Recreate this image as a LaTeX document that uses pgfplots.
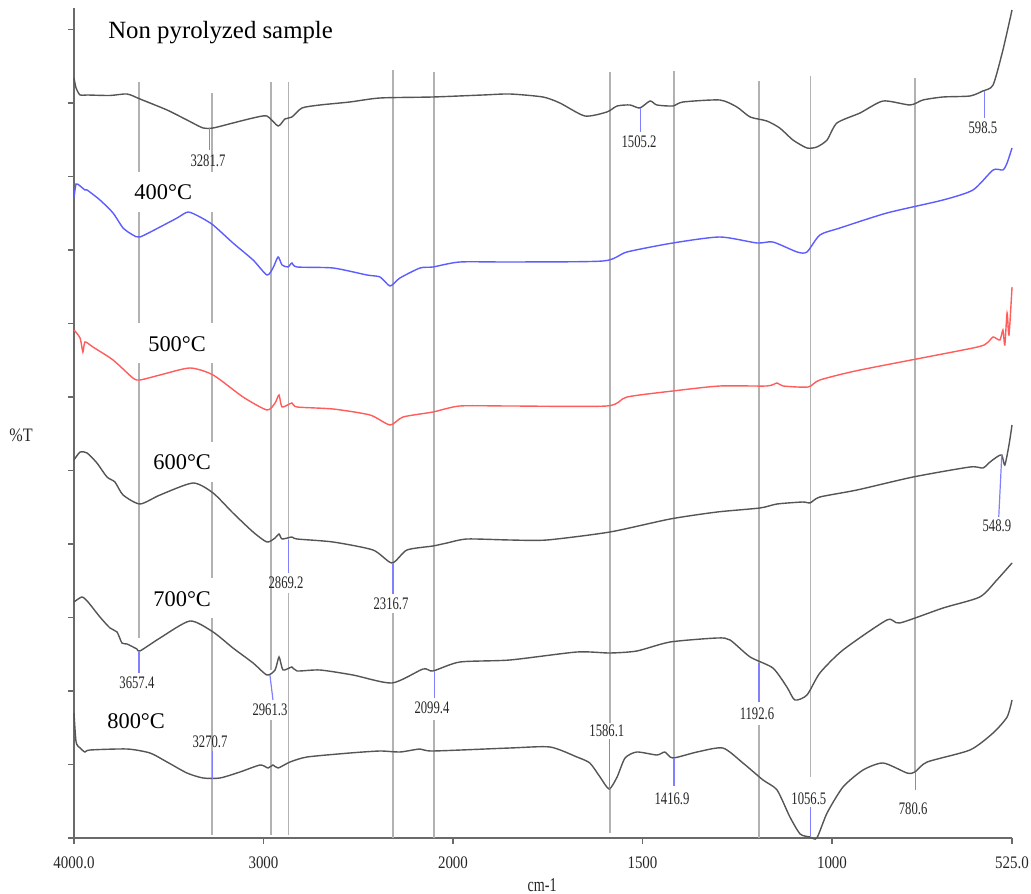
\documentclass[border=0pt]{standalone}
\usepackage{pgfplots}
\usepackage{pgfplotstable}
\pgfplotsset{compat=1.18}
\usepackage{fontspec}
\setmainfont{Liberation Serif}
\newfontfamily\cond[FakeStretch=0.72]{Liberation Serif}
\newfontfamily\tickf[FakeStretch=0.85]{Liberation Serif}
\definecolor{curvegray}{HTML}{555555}
\definecolor{curveblue}{HTML}{5C5CFF}
\definecolor{curvered}{HTML}{FF5C5C}
\definecolor{vline}{HTML}{B2B2B2}
\definecolor{pk}{HTML}{8080FF}
\definecolor{axgray}{HTML}{6A6A6A}
\definecolor{lbl}{HTML}{262626}

\pgfplotstableread{
wn T
4000 760
3989 750
3968 743
3931 743
3810 742.5
3720 744
3652 739
3509 728
3404 718
3319 710
3266 710
3161 715
3055 720
2982 722
2923 712
2887 719
2850 721
2797 730
2702 733
2544 736
2385 740
2106 741
1921 743
1850 744
1763 741
1718 735
1652 722
1594 726
1567 732
1533 733
1507 730
1480 737
1462 733
1420 732
1393 736
1296 738
1251 731
1216 721
1172 717
1138 710
1103 698
1066 690
1040 691
1013 698
987 715
926 725
865 737
794 733
760 738
707 741
636 742
602 747
575 753
549 788
525 828
}\dataNP

\pgfplotstableread{
wn T
4000 640
3989 654
3968 652
3942 648
3931 648
3863 638
3794 625
3741 610
3689 603
3652 601
3546 611
3456 620
3398 626
3335 621
3266 613
3161 595
3055 578
2982 563
2950 570
2923 581
2902 573
2871 571
2850 575
2823 571
2633 570
2454 563
2385 561
2332 552
2280 560
2174 570
2106 571
1982 576
1850 576
1604 577
1541 586
1420 595
1296 601
1198 595
1156 596
1092 586
1066 586
1032 603
979 610
855 625
707 638
628 648
575 668
549 668
538 675
525 690
}\dataFour

\pgfplotstableread{
wn T
4000 508
3968 500
3953 486
3942 496
3900 491
3794 478
3689 460
3652 458
3546 463
3388 470
3266 463
3108 441
2982 428
2939 435
2918 443
2902 431
2850 435
2823 431
2633 429
2438 423
2332 413
2264 421
2106 426
1982 432
1850 432
1594 432
1541 441
1420 447
1296 452
1172 452
1145 455
1129 452
1063 451
1032 458
926 468
628 490
591 495
575 501
557 498
549 508
544 493
538 525
533 503
525 551
}\dataFive

\pgfplotstableread{
wn T
4000 378
3968 386
3931 385
3879 375
3826 361
3784 356
3741 343
3652 334
3546 343
3372 355
3266 345
3161 325
3055 306
2982 296
2939 300
2918 304
2902 299
2850 301
2823 299
2633 296
2422 288
2322 275
2243 288
2106 292
2032 295
1963 299
1850 298
1752 298
1586 306
1427 319
1303 326
1190 330
1145 334
1077 336
1058 335
1032 341
934 348
786 361
636 371
602 370
583 376
565 381
552 383
544 373
533 393
525 413
}\dataSix

\pgfplotstableread{
wn T
4000 236
3958 241
3926 236
3863 221
3810 210
3773 206
3747 195
3720 194
3668 189
3652 187
3546 200
3388 217
3266 206
3161 190
3055 175
2982 163
2939 168
2918 181
2897 168
2850 171
2823 167
2702 168
2528 163
2322 155
2158 169
2106 167
1982 176
1850 178
1673 186
1586 185
1515 187
1427 196
1303 200
1269 198
1216 181
1156 170
1119 151
1098 138
1066 143
1032 165
971 188
855 218
821 215
707 230
610 241
565 258
525 275
}\dataSeven

\pgfplotstableread{
wn T
4000 125
3989 96
3968 90
3942 86
3916 88
3720 89
3599 85
3509 76
3404 65
3319 60
3230 60
3124 66
3018 73
2976 70
2950 73
2923 70
2860 76
2770 81
2544 85
2385 87
2280 86
2174 89
2106 87
1850 90
1744 91
1673 81
1639 75
1612 61
1588 49
1567 61
1546 80
1515 86
1462 83
1441 86
1420 80
1356 86
1288 90
1235 75
1182 58
1145 48
1111 21
1084 4
1058 1
1040 0
1013 25
971 51
918 68
865 75
802 65
781 66
749 76
636 88
575 105
538 121
525 138
}\dataEight

\begin{document}
\begin{tikzpicture}
\useasboundingbox (-37pt,-27.5pt) rectangle (478.5pt,419pt);
\begin{axis}[
  scale only axis,
  width=469pt, height=415pt,
  x coord trafo/.code={\pgfmathparse{4000-#1+max(0,2000-#1)}},
  x coord inv trafo/.code={\pgfmathparse{max(4000-#1,3000-#1/2)}},
  xmin=4000, xmax=525,
  ymin=0, ymax=830,
  axis x line*=bottom, axis y line*=left,
  axis line style={axgray, line width=0.6pt, -},
  tick align=outside,
  major tick length=3pt,
  tick style={axgray, line width=0.6pt},
  xtick={4000,3000,2000,1500,1000,525},
  xticklabels={4000.0,3000,2000,1500,1000,525.0},
  xticklabel style={font=\tickf\fontsize{8.8}{10}\selectfont, text=lbl, yshift=-3pt},
  ytick={0,73.5,147,220.5,294,367.5,441,514.5,588,661.5,735,808.5},
  yticklabels={},
  clip=false,
  every axis plot/.append style={smooth, tension=0.4, line width=0.7pt},
]
% grey reference lines
\begin{scope}[vline, line width=0.75pt]
\draw (axis cs:3657.4,756) -- (axis cs:3657.4,200);
\draw (axis cs:3270.7,745) -- (axis cs:3270.7,3);
\draw (axis cs:2961.3,756) -- (axis cs:2961.3,168);
\draw (axis cs:2961.3,118) -- (axis cs:2961.3,3);
\draw (axis cs:2869.2,756) -- (axis cs:2869.2,298);
\draw (axis cs:2869.2,245) -- (axis cs:2869.2,3);
\draw (axis cs:2316.7,768) -- (axis cs:2316.7,275);
\draw (axis cs:2316.7,225) -- (axis cs:2316.7,0);
\draw (axis cs:2099.4,766) -- (axis cs:2099.4,167);
\draw (axis cs:2099.4,118) -- (axis cs:2099.4,0);
\draw (axis cs:1586.1,766) -- (axis cs:1586.1,115);
\draw (axis cs:1586.1,49) -- (axis cs:1586.1,5);
\draw (axis cs:1416.9,767) -- (axis cs:1416.9,80);
\draw (axis cs:1192.6,757) -- (axis cs:1192.6,175);
\draw (axis cs:1192.6,113) -- (axis cs:1192.6,0);
\draw (axis cs:1056.5,762) -- (axis cs:1056.5,61);
\draw (axis cs:780.6,760) -- (axis cs:780.6,66);
\end{scope}
% white boxes behind the temperature labels
\fill[white] (axis cs:3731,666) rectangle (axis cs:3203,626);
\fill[white] (axis cs:3731,515) rectangle (axis cs:3203,475);
\fill[white] (axis cs:3636,396) rectangle (axis cs:3219,356);
\fill[white] (axis cs:3636,260) rectangle (axis cs:3219,220);

\addplot[curvegray] table[x=wn,y=T] {\dataNP};
\addplot[curveblue] table[x=wn,y=T] {\dataFour};
\addplot[curvered] table[x=wn,y=T] {\dataFive};
\addplot[curvegray] table[x=wn,y=T] {\dataSix};
\addplot[curvegray] table[x=wn,y=T] {\dataSeven};
\addplot[curvegray] table[x=wn,y=T] {\dataEight};

% blue peak markers
\begin{scope}[pk, line width=0.6pt]
\draw (axis cs:3285,710) -- (axis cs:3285,688);
\draw (axis cs:1505.2,730) -- (axis cs:1505.2,706);
\draw (axis cs:598.5,747) -- (axis cs:598.5,720);
\draw (axis cs:552,383) -- (axis cs:560,321);
\draw (axis cs:2869.2,298) -- (axis cs:2869.2,265);
\draw (axis cs:2316.7,275) -- (axis cs:2316.7,244);
\draw (axis cs:3657.4,187) -- (axis cs:3657.4,165);
\draw (axis cs:2966,163) -- (axis cs:2950,138);
\draw (axis cs:2099.4,167) -- (axis cs:2099.4,140);
\draw (axis cs:1192.6,175) -- (axis cs:1192.6,136);
\draw (axis cs:3270.7,87) -- (axis cs:3270.7,59);
\draw (axis cs:1586.1,99) -- (axis cs:1586.1,49);
\draw (axis cs:1416.9,80) -- (axis cs:1416.9,52);
\draw (axis cs:1056.5,31) -- (axis cs:1056.5,2);
\draw (axis cs:780.6,66) -- (axis cs:780.6,48);
\end{scope}

% peak numbers
\begin{scope}[every node/.style={font=\cond\fontsize{8.8}{10}\selectfont, text=lbl, inner sep=0pt}]
\node at (axis cs:3293,677) {3281.7};
\node at (axis cs:1509,696) {1505.2};
\node at (axis cs:602,710) {598.5};
\node at (axis cs:565,312) {548.9};
\node at (axis cs:2881,255) {2869.2};
\node at (axis cs:2327,234) {2316.7};
\node at (axis cs:3668,155) {3657.4};
\node at (axis cs:2966,128) {2961.3};
\node at (axis cs:2111,130) {2099.4};
\node at (axis cs:3282,96) {3270.7};
\node at (axis cs:1198,124) {1192.6};
\node at (axis cs:1594,107) {1586.1};
\node at (axis cs:1422,39) {1416.9};
\node at (axis cs:1061,39) {1056.5};
\node at (axis cs:786,29) {780.6};
\end{scope}

% sample labels
\begin{scope}[every node/.style={anchor=base west, inner sep=0pt, font=\fontsize{11.2}{13}\selectfont}]
\node at (axis cs:3821,799) {\fontsize{12.4}{14}\selectfont Non pyrolyzed sample};
\node at (axis cs:3683,638) {400°C};
\node at (axis cs:3610,486) {500°C};
\node at (axis cs:3583,368) {600°C};
\node at (axis cs:3583,231) {700°C};
\node at (axis cs:3826,110) {800°C};
\end{scope}

\node[font=\tickf\fontsize{9.5}{11}\selectfont, text=lbl] at (rel axis cs:-0.0565,0.4855) {\%T};
\node[font=\cond\fontsize{9.8}{11}\selectfont, text=lbl] at (rel axis cs:0.499,-0.0565) {cm-1};
\end{axis}
\end{tikzpicture}
\end{document}
